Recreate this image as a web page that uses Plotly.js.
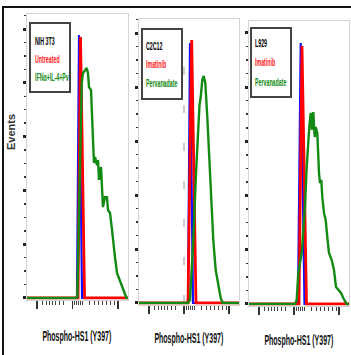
<!DOCTYPE html>
<html><head><meta charset="utf-8">
<script src="https://cdn.plot.ly/plotly-3.0.1.min.js"></script>
<style>html,body{margin:0;padding:0;background:#fff}#c{width:351px;height:355px}</style>
</head><body><div id="c"></div>
<script>
// ---- data (x: relative fluorescence channel 0-100, y: events) ----
var xMajorTicks = [10, 45, 90];
var xMinorTicks = [15, 19, 22, 25, 28, 32, 36, 47, 49, 51, 53, 55, 62, 67, 71, 75, 79, 83, 87];

var blue1X = [0, 49.5, 51.5, 54.5, 100];
var blue1Y = [0, 0, 97.8, 0, 0];
var red1X = [0, 50.5, 53, 57, 100];
var red1Y = [0, 0, 97, 0, 0];
var green1X = [0, 48.5, 49.8, 52.5, 54.2, 55.4, 57.4, 59.1, 60.4, 61.4, 63.4, 64.4, 65.3, 66.3, 67.3, 69.3, 70.3, 71.3, 73.3, 74.3, 75.2, 77.2, 79.2, 80.2, 82.2, 84.2, 85.1, 87.1, 89.1, 91.1, 94.1, 97.0, 98.5, 100];
var green1Y = [0, 0, 0.4, 58.7, 79.9, 83.6, 84.7, 85.5, 83.6, 78.4, 77.3, 66.2, 55.0, 50.2, 52.4, 49.4, 51.3, 43.9, 48.7, 41.3, 33.8, 37.5, 37.5, 32.7, 31.6, 25.3, 21.6, 15.2, 9.3, 7.4, 4.1, 1.5, 0, 0];

var blue2X = [0, 49, 51, 54, 100];
var blue2Y = [0, 0, 96.3, 0, 0];
var red2X = [0, 49, 52.7, 57, 100];
var red2Y = [0, 0, 97.4, 0, 0];
var green2X = [0, 49, 51, 54.3, 57, 59.3, 60.5, 61.7, 63.3, 64.7, 66.3, 68.3, 70.3, 72.3, 74.3, 76.7, 79.3, 81.7, 83.7, 100];
var green2Y = [0, 0, 1.1, 23.3, 48.1, 68.9, 73.3, 76.3, 82.6, 84.1, 81.5, 68.9, 51.9, 37.0, 23.3, 12.2, 5.9, 1.9, 0, 0];

var blue3X = [0, 49, 51.7, 55.5, 100];
var blue3Y = [0, 0, 96.3, 0, 0];
var red3X = [0, 50, 53, 57.5, 100];
var red3Y = [0, 0, 95.2, 0, 0];
var green3X = [0, 46, 47.7, 49.3, 52.7, 56, 57.7, 59.3, 60.3, 61.7, 63, 64.3, 65.7, 66.7, 68.3, 70, 71, 72.3, 73.3, 75, 76.7, 78.3, 80, 82.7, 85, 87, 90, 92, 94.3, 97.7, 100];
var green3Y = [0, 0, 1.5, 11.4, 18.8, 35.8, 50.6, 60.5, 65.3, 70.5, 64.2, 70.8, 61.6, 65.3, 63.1, 48.3, 44.6, 45.8, 39.5, 33.6, 31.0, 24.7, 18.8, 16.2, 12.5, 6.3, 5.2, 4.1, 2.2, 0, 0];

var cellLines = ["NIH 3T3", "C2C12", "L929"];
var controlLabels = ["Untreated", "Imatinib", "Imatinib"];
var treatLabels = ["IFNα+IL-4+Pv", "Pervanadate", "Pervanadate"];
var xTitle = "Phospho-HS1 (Y397)";
var yTitle = "Events";

// ---- layout ----
var W = 351, H = 355;
function px(x){return x/W;}
function py(y){return 1 - y/H;}
var FONT = '"Liberation Sans",Arial,sans-serif';

var panels = [
  {bx:blue1X,by:blue1Y,rx:red1X,ry:red1Y,gx:green1X,gy:green1Y, xd:[27,128], yd:[299.5,14], top:105.6,
   box:[30,23,70,92], tx:33, ty:[41,59,77], title:[77,336]},
  {bx:blue2X,by:blue2Y,rx:red2X,ry:red2Y,gx:green2X,gy:green2Y, xd:[139,239], yd:[304.5,19], top:105.2,
   box:[142,29,182,99], tx:144, ty:[46,64,83], title:[189,338]},
  {bx:blue3X,by:blue3Y,rx:red3X,ry:red3Y,gx:green3X,gy:green3Y, xd:[249,349], yd:[305.5,21], top:104.4,
   box:[251,28,291,97], tx:253, ty:[43,62,82], title:[299,340]}
];

var data = [], shapes = [], annotations = [], annKind = [];
var layout = {
  width: W, height: H, margin:{l:0,r:0,t:0,b:0},
  paper_bgcolor:'#fff', plot_bgcolor:'#fff', showlegend:false,
  font:{family:FONT, color:'#000'}
};

panels.forEach(function(p, i){
  var n = i===0 ? '' : String(i+1);
  var xa = 'x'+n, ya = 'y'+n;
  data.push({x:p.bx, y:p.by, xaxis:xa, yaxis:ya, mode:'lines', line:{color:'#1010ff', width:2.2}, hoverinfo:'skip'});
  data.push({x:p.rx, y:p.ry, xaxis:xa, yaxis:ya, mode:'lines', line:{color:'#ff0000', width:2.8}, hoverinfo:'skip'});
  data.push({x:p.gx, y:p.gy, xaxis:xa, yaxis:ya, mode:'lines', line:{color:'#138a13', width:2.4}, hoverinfo:'skip'});

  layout['xaxis'+n] = {
    domain:[px(p.xd[0]), px(p.xd[1])], range:[0,100], anchor:ya,
    showgrid:false, zeroline:false, showline:true, mirror:true, linecolor:'#d4d4d4', linewidth:1,
    tickmode:'array', tickvals:xMajorTicks, ticktext:xMajorTicks.map(function(){return '';}),
    ticks:'outside', ticklen:8, tickwidth:1.3, tickcolor:'#333',
    minor:{tickmode:'array', tickvals:xMinorTicks, ticks:'outside', ticklen:4, tickwidth:1, tickcolor:'#444'},
    fixedrange:true
  };
  layout['yaxis'+n] = {
    domain:[py(p.yd[0]), py(p.yd[1])], range:[-0.56, p.top], anchor:xa,
    showgrid:false, zeroline:false, showline:true, mirror:true, linecolor:'#d4d4d4', linewidth:1,
    tickmode:'linear', tick0:0, dtick:20, showticklabels:false,
    ticks:'outside', ticklen:3, tickwidth:3, tickcolor:'#222',
    minor:{tickmode:'linear', dtick:5, ticks:'outside', ticklen:2, tickwidth:1.5, tickcolor:'#333'},
    fixedrange:true
  };

  // legend box
  shapes.push({type:'rect', xref:'paper', yref:'paper',
    x0:px(p.box[0]), x1:px(p.box[2]), y0:py(p.box[3]), y1:py(p.box[1]),
    line:{color:'#444', width:2}, fillcolor:'rgba(255,255,255,0)'});
  var lbl = [cellLines[i], controlLabels[i], treatLabels[i]];
  var cols = ['#000', '#ff1a1a', '#138a13'];
  lbl.forEach(function(t, k){
    annotations.push({text:t, xref:'paper', yref:'paper', x:px(p.tx), y:py(p.ty[k]),
      xanchor:'left', yanchor:'middle', showarrow:false,
      font:{size:11, color:cols[k], family:FONT, weight:'bold'}});
    annKind.push({anchor:'left', scale:0.48});
  });
  annotations.push({text:xTitle, xref:'paper', yref:'paper', x:px(p.title[0]), y:py(p.title[1]),
    xanchor:'center', yanchor:'middle', showarrow:false,
    font:{size:14, color:'#111', family:FONT, weight:'bold'}});
  annKind.push({anchor:'center', target:69});
});

// dashed reference line in panel 2 (at zero channel)
shapes.push({type:'line', xref:'x2', yref:'y2', x0:xMajorTicks[1], x1:xMajorTicks[1], y0:0, y1:98,
  line:{color:'#cccccc', width:2, dash:'8px,30px'}, layer:'below'});

// outer frame (top & left)
shapes.push({type:'rect', xref:'paper', yref:'paper', x0:px(3), x1:1.05, y0:-0.05, y1:py(7),
  line:{color:'#111', width:2}});

annotations.push({text:yTitle, xref:'paper', yref:'paper', x:px(11), y:py(132),
  xanchor:'center', yanchor:'middle', textangle:-90, showarrow:false,
  font:{size:11, color:'#333', family:FONT, weight:'bold'}});
annKind.push(null);

layout.shapes = shapes;
layout.annotations = annotations;
Plotly.newPlot('c', data, layout, {displayModeBar:false, staticPlot:true}).then(function(gd){
  // condense annotation text horizontally (the original uses a narrow typeface)
  var groups = gd.querySelectorAll('.annotation');
  groups.forEach(function(g){
    var idx = +g.getAttribute('data-index');
    var k = annKind[idx];
    if(!k) return;
    var t = g.querySelector('text.annotation-text');
    if(!t) return;
    var bb = t.getBBox();
    var s = k.target ? k.target / bb.width : k.scale;
    var ax = k.anchor === 'left' ? bb.x : bb.x + bb.width/2;
    t.setAttribute('transform', 'translate(' + ax + ',0) scale(' + s + ',1) translate(' + (-ax) + ',0)');
  });
});
</script>
</body></html>
